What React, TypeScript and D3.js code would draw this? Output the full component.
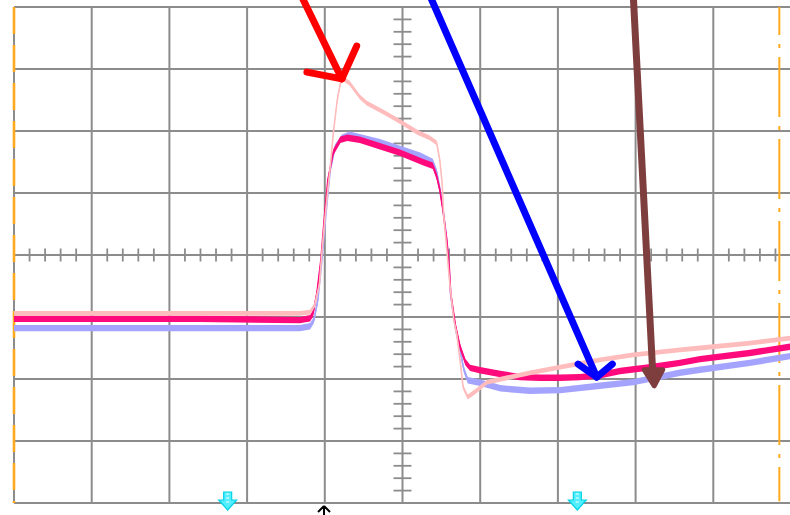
import React from 'react';
import * as d3 from 'd3';

// Oscilloscope screen: 10 x 8 divisions, centre = (0,0)
const W = 790;
const H = 515;

// Channel traces (time in divisions, value in divisions)
const magT = [-5.00,-3.89,-2.61,-1.32,-1.19,-1.15,-1.10,-1.05,-1.00,-0.96,-0.89,-0.80,-0.71,-0.55,-0.38,-0.03,0.26,0.39,0.44,0.48,0.52,0.57,0.60,0.62,0.68,0.74,0.81,0.87,1.00,1.26,1.51,1.77,2.03,2.28,2.54,2.80,3.19,3.57,3.83,4.47,4.99];
const magV = [-1.03,-1.03,-1.03,-1.05,-1.02,-0.94,-0.60,-0.08,0.69,1.21,1.66,1.86,1.89,1.86,1.79,1.65,1.50,1.44,1.27,1.05,0.73,0.24,-0.16,-0.61,-1.13,-1.48,-1.73,-1.82,-1.86,-1.92,-1.97,-1.98,-1.98,-1.97,-1.94,-1.87,-1.81,-1.74,-1.68,-1.58,-1.48];

const lavT = [-5.00,-3.89,-2.61,-1.32,-1.19,-1.14,-1.09,-1.04,-0.98,-0.93,-0.87,-0.78,-0.68,-0.55,-0.29,-0.03,0.23,0.39,0.44,0.48,0.52,0.57,0.60,0.62,0.68,0.74,0.79,0.84,1.00,1.26,1.64,2.03,2.54,2.97,3.57,3.83,4.47,4.99];
const lavV = [-1.18,-1.18,-1.18,-1.18,-1.15,-1.05,-0.73,-0.11,0.73,1.37,1.73,1.89,1.94,1.90,1.82,1.71,1.60,1.50,1.34,1.08,0.76,0.24,-0.21,-0.65,-1.18,-1.53,-1.85,-2.02,-2.06,-2.15,-2.19,-2.18,-2.11,-2.05,-1.90,-1.85,-1.74,-1.63];

const pinkT = [-5.00,-3.89,-2.61,-1.32,-1.19,-1.13,-1.07,-1.04,-1.00,-0.97,-0.93,-0.89,-0.84,-0.80,-0.77,-0.68,-0.55,-0.46,-0.25,-0.03,0.19,0.35,0.44,0.48,0.51,0.53,0.57,0.61,0.66,0.70,0.74,0.78,0.84,0.93,1.09,1.35,1.64,2.03,2.54,2.97,3.57,3.83,4.47,4.99];
const pinkV = [-0.94,-0.94,-0.94,-0.94,-0.92,-0.81,-0.48,0.00,0.56,0.94,1.42,1.97,2.50,2.77,2.85,2.77,2.55,2.45,2.31,2.15,1.98,1.89,1.81,1.53,1.16,0.65,0.08,-0.48,-1.05,-1.29,-1.69,-2.13,-2.29,-2.21,-2.05,-1.98,-1.90,-1.81,-1.69,-1.61,-1.53,-1.50,-1.42,-1.34];

// Hand-drawn annotation arrows (division units)
const redShaft = [[-1.31, 4.2], [-0.78, 2.84]];
const redHead = [[-1.23, 2.95], [-0.78, 2.84], [-0.59, 3.37]];
const blueShaft = [[0.35, 4.19], [2.50, -1.97]];
const blueHead = [[2.26, -1.76], [2.50, -1.97], [2.70, -1.76]];
const brownShaft = [[2.97, 4.19], [3.22, -1.89]];
const brownHead = [[3.11, -1.85], [3.35, -1.85], [3.24, -2.11]];

// Screen markers
const cyanMarkers = [-2.25, 2.25];
const triggerMarker = -1.01;
const leftCursor = -5;
const rightCursor = 4.85;

const xDivs = d3.range(-5, 6);
const yDivs = d3.range(-4, 5);

export default function App() {
  const x = d3.scaleLinear().domain([-5, 5]).range([14, 791]);
  const y = d3.scaleLinear().domain([-4, 4]).range([503, 7]);
  const zip = (t: number[], v: number[]) => t.map((d, i) => [d, v[i]] as [number, number]);
  const band = (h: number) =>
    d3.area<[number, number]>()
      .x(d => x(d[0]))
      .y0(d => y(d[1]) + h)
      .y1(d => y(d[1]) - h);
  const line = d3.line<[number, number]>().x(d => x(d[0])).y(d => y(d[1]));
  const pts = (a: number[][]) => a as [number, number][];

  const minorH = d3.range(-25, 26).filter(i => i % 5 !== 0).map(i => i / 5);
  const minorV = d3.range(-20, 21).filter(i => i % 5 !== 0).map(i => i / 5);

  const gridColor = '#8c8c8c';
  const traces = [
    { t: lavT, v: lavV, c: '#a4a4ff', h: 3.2 },
    { t: magT, v: magV, c: '#ff0a7c', h: 3.2 },
    { t: pinkT, v: pinkV, c: '#ffbcbc', h: 2.4 },
  ];

  return (
    <svg width={W} height={H} style={{ position: 'absolute', left: 0, top: 0, display: 'block', background: '#fff' }}>
      <rect x={0} y={0} width={W} height={H} fill="#fff" />
      {/* grid */}
      {xDivs.map(d => (
        <line key={'gx' + d} x1={x(d)} x2={x(d)} y1={y(4)} y2={y(-4)} stroke={gridColor} strokeWidth={2} />
      ))}
      {yDivs.map(d => (
        <line key={'gy' + d} x1={x(-5)} x2={x(5)} y1={y(d)} y2={y(d)} stroke={gridColor} strokeWidth={2} />
      ))}
      {/* centre axis minor ticks */}
      {minorH.map(d => (
        <line key={'mh' + d} x1={x(d)} x2={x(d)} y1={y(0) - 6.5} y2={y(0) + 6.5} stroke={gridColor} strokeWidth={1.8} />
      ))}
      {minorV.map(d => (
        <line key={'mv' + d} x1={x(0) - 9} x2={x(0) + 9} y1={y(d)} y2={y(d)} stroke={gridColor} strokeWidth={1.8} />
      ))}
      {/* cursors */}
      <line x1={x(leftCursor)} x2={x(leftCursor)} y1={y(4)} y2={y(-4)} stroke="#ffaa1e" strokeWidth={2.6} strokeDasharray="27 11" />
      <line x1={x(rightCursor)} x2={x(rightCursor)} y1={y(4)} y2={y(-3.97)} stroke="#ffaa1e" strokeWidth={2} strokeDasharray="60 9 4 9" strokeDashoffset={32} />
      {/* traces */}
      {traces.map((tr, i) => {
        const data = zip(tr.t, tr.v);
        return (
          <g key={'tr' + i}>
            <path d={band(tr.h)(data) || ''} fill={tr.c} />
            <path d={line(data) || ''} fill="none" stroke={tr.c} strokeWidth={1.6} />
          </g>
        );
      })}
      {/* annotation arrows */}
      <g fill="none" strokeLinecap="round" strokeLinejoin="round" strokeWidth={7}>
        <path d={line(pts(redShaft)) || ''} stroke="#ff0000" />
        <path d={line(pts(redHead)) || ''} stroke="#ff0000" />
        <path d={line(pts(blueShaft)) || ''} stroke="#0000ff" />
        <path d={line(pts(blueHead)) || ''} stroke="#0000ff" />
        <path d={line(pts(brownShaft)) || ''} stroke="#7e3e3e" />
      </g>
      <path d={(line(pts(brownHead)) || '') + 'Z'} fill="#7e3e3e" stroke="#7e3e3e" strokeWidth={5} strokeLinejoin="round" />
      {/* bottom markers */}
      {cyanMarkers.map(m => {
        const cx = x(m);
        return (
          <g key={'cm' + m}>
            <path d={`M${cx - 4},492 h8 v8 h5 l-9,10 l-9,-10 h5 z`} fill="#55eeff" stroke="#00d4e6" strokeWidth={1.2} />
            <path d={`M${cx - 1.5},494 h3 M${cx - 1.5},498 h3 M${cx - 1.5},502 h3`} stroke="#fff" strokeWidth={1.2} />
          </g>
        );
      })}
      <path d={`M${x(triggerMarker)},506 l-6,6 M${x(triggerMarker)},506 l6,6 M${x(triggerMarker)},506 v10`} stroke="#000" strokeWidth={2} fill="none" />
    </svg>
  );
}
